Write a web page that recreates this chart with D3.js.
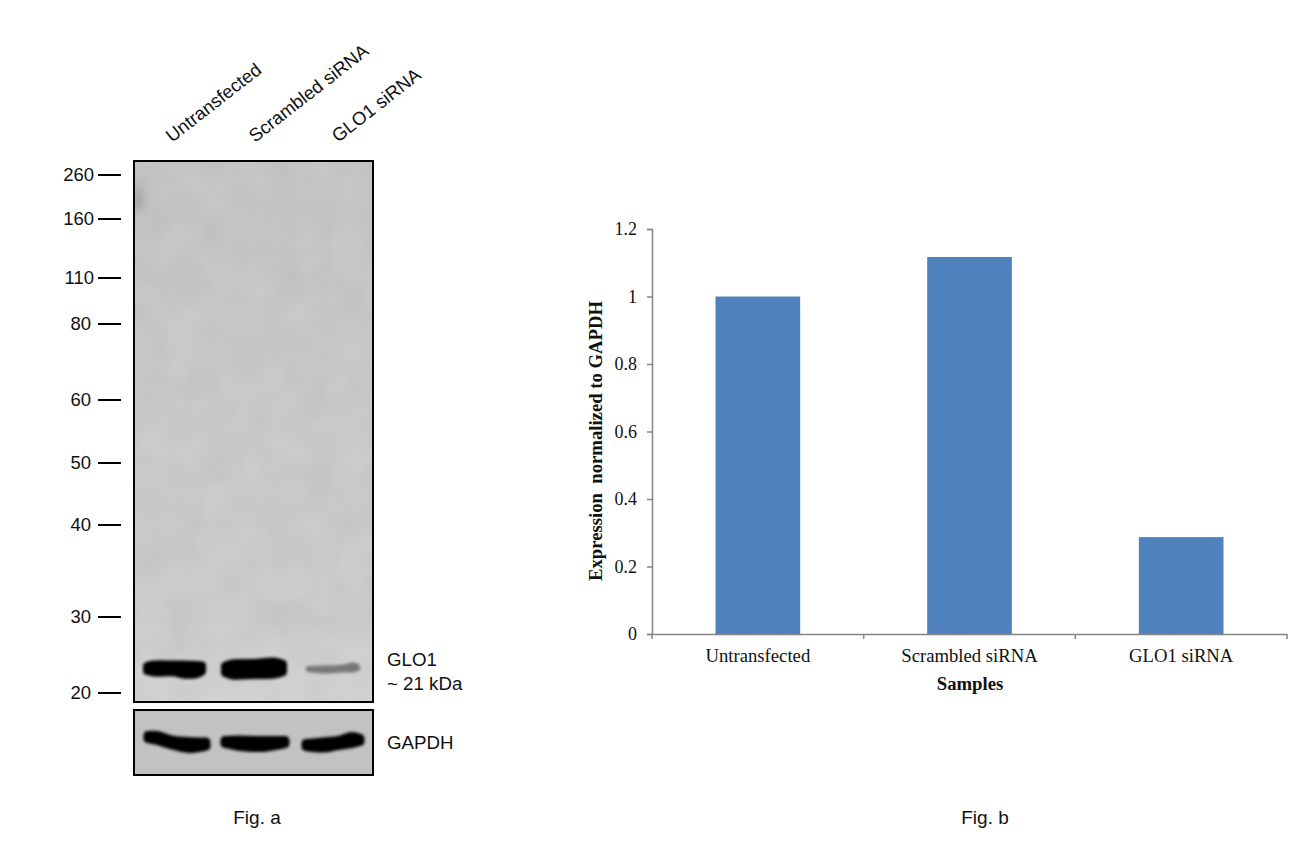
<!DOCTYPE html>
<html>
<head>
<meta charset="utf-8">
<script src="https://cdn.jsdelivr.net/npm/d3@7"></script>
<style>
  html, body { margin: 0; background: #fff; }
  svg { display: block; }
</style>
</head>
<body>
<div id="wrapper"></div>
<script>
const samples = ["Untransfected", "Scrambled siRNA", "GLO1 siRNA"]
const expression = [1, 1.117, 0.287]
const yTicks = [0, 0.2, 0.4, 0.6, 0.8, 1, 1.2]

const ladderKda = [260, 160, 110, 80, 60, 50, 40, 30, 20]
const ladderPx = [175, 219, 278, 324, 400, 463, 525, 617, 693]

// band profile along the lane: [position 0..1, offset from centre, thickness]
const glo1Bands = [
  { lane: 0, ink: "#030303", round: 8, profile: [[0, 0, 5], [0.12, 0, 8], [0.5, 0, 8], [0.65, 1, 10], [0.9, 1, 9], [1, 0, 6]] },
  { lane: 1, ink: "#020202", round: 10, profile: [[0, 1, 6], [0.12, 1, 10], [0.5, 0.5, 10], [0.85, -0.5, 11], [1, -0.5, 7]] },
  { lane: 2, ink: "#787878", round: 4, profile: [[0, 0.5, 2], [0.3, 1, 4], [0.7, 0, 4], [0.9, -1, 6], [1, -1, 3]] }
]
const gapdhBands = [
  { lane: 0, ink: "#040404", round: 9, profile: [[0, -6, 3], [0.15, -5, 5], [0.45, 0, 5], [0.7, 2, 7], [1, 1, 4]] },
  { lane: 1, ink: "#040404", round: 9, profile: [[0, -1, 3], [0.2, 0, 6], [0.6, 1, 7], [1, -1, 3]] },
  { lane: 2, ink: "#040404", round: 9, profile: [[0, 2, 3], [0.3, 2, 6], [0.6, 0, 5], [0.85, -3, 7], [1, -3, 3]] }
]
const glo1Lanes = [[147, 202], [226, 282], [308, 358]]
const gapdhLanes = [[148, 206], [225, 285], [306, 360]]

const dimensions = {
  width: 1310,
  height: 859,
  chart: { left: 652, right: 1287, top: 229, bottom: 634 },
  blot: { left: 134, right: 373, top: 161, bottom: 702 },
  gapdh: { top: 710, bottom: 775 }
}

const svg = d3.select("#wrapper")
  .append("svg")
    .attr("width", dimensions.width)
    .attr("height", dimensions.height)
    .attr("viewBox", `0 0 ${dimensions.width} ${dimensions.height}`)

const defs = svg.append("defs")

const mottle = defs.append("filter")
    .attr("id", "mottle")
    .attr("x", 0).attr("y", 0).attr("width", 1).attr("height", 1)
mottle.append("feTurbulence")
    .attr("type", "fractalNoise")
    .attr("baseFrequency", 0.03)
    .attr("numOctaves", 2)
    .attr("seed", 4)
    .attr("result", "noise")
mottle.append("feColorMatrix")
    .attr("in", "noise")
    .attr("type", "matrix")
    .attr("values", "0 0 0 0 0  0 0 0 0 0  0 0 0 0 0  0.07 0 0 0 -0.02")

defs.append("filter")
    .attr("id", "bandBlur")
    .attr("x", "-20%").attr("y", "-80%").attr("width", "140%").attr("height", "260%")
  .append("feGaussianBlur")
    .attr("stdDeviation", 1.8)
defs.append("filter")
    .attr("id", "smudgeBlur")
    .attr("x", "-100%").attr("y", "-100%").attr("width", "300%").attr("height", "300%")
  .append("feGaussianBlur")
    .attr("stdDeviation", 5)

const blotShade = defs.append("linearGradient")
    .attr("id", "blotShade")
    .attr("x1", 0).attr("x2", 0).attr("y1", 0).attr("y2", 1)
blotShade.selectAll("stop")
  .data([[0, "#c6c6c6"], [0.5, "#cbcbcb"], [0.85, "#cdcdcd"], [1, "#d4d4d4"]])
  .join("stop")
    .attr("offset", d => d[0])
    .attr("stop-color", d => d[1])

defs.append("clipPath").attr("id", "blotClip")
  .append("rect")
    .attr("x", dimensions.blot.left)
    .attr("y", dimensions.blot.top)
    .attr("width", dimensions.blot.right - dimensions.blot.left)
    .attr("height", dimensions.blot.bottom - dimensions.blot.top)

// ---- Fig. a: western blot
const sans = "'Liberation Sans', Arial, sans-serif"
const serif = "'Liberation Serif', 'Times New Roman', serif"

const kdaScale = d3.scaleLog().domain(ladderKda).range(ladderPx)

function bandPath(band, lanes, centerY) {
  const [x0, x1] = lanes[band.lane]
  const along = d3.scaleLinear().domain([0, 1]).range([x0, x1])
  return d3.area()
      .x(d => along(d[0]))
      .y0(d => centerY + d[1] - d[2] / 2)
      .y1(d => centerY + d[1] + d[2] / 2)
      .curve(d3.curveCatmullRom)(band.profile)
}

const blot = svg.append("g").attr("id", "blot")

blot.append("rect")
    .attr("x", dimensions.blot.left)
    .attr("y", dimensions.blot.top)
    .attr("width", dimensions.blot.right - dimensions.blot.left)
    .attr("height", dimensions.blot.bottom - dimensions.blot.top)
    .attr("fill", "url(#blotShade)")
blot.append("rect")
    .attr("x", dimensions.blot.left)
    .attr("y", dimensions.blot.top)
    .attr("width", dimensions.blot.right - dimensions.blot.left)
    .attr("height", dimensions.blot.bottom - dimensions.blot.top)
    .attr("filter", "url(#mottle)")
blot.append("g")
    .attr("clip-path", "url(#blotClip)")
  .append("ellipse")
    .attr("cx", dimensions.blot.left + 4)
    .attr("cy", 199)
    .attr("rx", 5)
    .attr("ry", 14)
    .attr("fill", "#a0a0a0")
    .attr("filter", "url(#smudgeBlur)")

blot.selectAll(".glo1-band")
  .data(glo1Bands)
  .join("path")
    .attr("class", "glo1-band")
    .attr("d", d => bandPath(d, glo1Lanes, 668.5))
    .attr("fill", d => d.ink)
    .attr("stroke", d => d.ink)
    .attr("stroke-width", d => d.round)
    .attr("stroke-linejoin", "round")
    .attr("filter", "url(#bandBlur)")

blot.append("rect")
    .attr("x", dimensions.blot.left)
    .attr("y", dimensions.blot.top)
    .attr("width", dimensions.blot.right - dimensions.blot.left)
    .attr("height", dimensions.blot.bottom - dimensions.blot.top)
    .attr("fill", "none")
    .attr("stroke", "#000")
    .attr("stroke-width", 2)

blot.append("rect")
    .attr("x", dimensions.blot.left)
    .attr("y", dimensions.gapdh.top)
    .attr("width", dimensions.blot.right - dimensions.blot.left)
    .attr("height", dimensions.gapdh.bottom - dimensions.gapdh.top)
    .attr("fill", "#c2c2c2")

blot.selectAll(".gapdh-band")
  .data(gapdhBands)
  .join("path")
    .attr("class", "gapdh-band")
    .attr("d", d => bandPath(d, gapdhLanes, 743))
    .attr("fill", d => d.ink)
    .attr("stroke", d => d.ink)
    .attr("stroke-width", d => d.round)
    .attr("stroke-linejoin", "round")
    .attr("filter", "url(#bandBlur)")

blot.append("rect")
    .attr("x", dimensions.blot.left)
    .attr("y", dimensions.gapdh.top)
    .attr("width", dimensions.blot.right - dimensions.blot.left)
    .attr("height", dimensions.gapdh.bottom - dimensions.gapdh.top)
    .attr("fill", "none")
    .attr("stroke", "#000")
    .attr("stroke-width", 2)

const ladder = blot.append("g")
  .selectAll("g")
  .data(ladderKda)
  .join("g")
    .attr("transform", d => `translate(0,${kdaScale(d)})`)
ladder.append("line")
    .attr("x1", 98).attr("x2", 121)
    .attr("stroke", "#000")
    .attr("stroke-width", 2)
ladder.append("text")
    .attr("x", d => d >= 100 ? 94 : 91)
    .attr("dy", "0.33em")
    .attr("text-anchor", "end")
    .attr("font-family", sans)
    .attr("font-size", 18.5)
    .attr("fill", "#111")
    .text(d => d)

const laneLabelX = d3.scalePoint().domain(samples).range([172, 338])
blot.selectAll(".lane-label")
  .data(samples)
  .join("text")
    .attr("class", "lane-label")
    .attr("transform", d => `translate(${laneLabelX(d)},143) rotate(-38)`)
    .attr("font-family", sans)
    .attr("font-size", 18.5)
    .attr("fill", "#111")
    .text(d => d)

const blotNotes = [["GLO1", 666], ["~ 21 kDa", 690], ["GAPDH", 749]]
blot.selectAll(".note")
  .data(blotNotes)
  .join("text")
    .attr("class", "note")
    .attr("x", 387)
    .attr("y", d => d[1])
    .attr("font-family", sans)
    .attr("font-size", 18.7)
    .attr("fill", "#111")
    .text(d => d[0])

// ---- Fig. b: bar chart
const yScale = d3.scaleLinear()
    .domain([0, 1.2])
    .range([dimensions.chart.bottom, dimensions.chart.top])
const xScale = d3.scaleBand()
    .domain(samples)
    .range([dimensions.chart.left, dimensions.chart.right])
    .paddingInner(0.6)
    .paddingOuter(0.3)

const chart = svg.append("g").attr("id", "chart")

chart.selectAll(".bar")
  .data(samples)
  .join("rect")
    .attr("class", "bar")
    .attr("x", d => xScale(d))
    .attr("width", xScale.bandwidth())
    .attr("y", (d, i) => yScale(expression[i]))
    .attr("height", (d, i) => yScale(0) - yScale(expression[i]))
    .attr("fill", "#4f81bd")

const yAxis = chart.append("g")
    .attr("transform", `translate(${dimensions.chart.left},0)`)
    .call(d3.axisLeft(yScale).tickValues(yTicks).tickFormat(d => d).tickSize(5).tickPadding(10))
yAxis.selectAll("path, line").attr("stroke", "#868686").attr("stroke-width", 1.5)
yAxis.selectAll("text")
    .attr("font-family", serif)
    .attr("font-size", 18)
    .attr("fill", "#111")

const xAxis = chart.append("g")
    .attr("transform", `translate(0,${dimensions.chart.bottom})`)
    .call(d3.axisBottom(xScale).tickSize(0).tickPadding(15))
xAxis.select("path").attr("stroke", "#868686").attr("stroke-width", 1.5)
xAxis.selectAll("text")
    .attr("font-family", serif)
    .attr("font-size", 18.7)
    .attr("fill", "#111")

// category separators sit between the bars, not on them
const separators = d3.range(samples.length + 1)
    .map(i => dimensions.chart.left + i * xScale.step())
chart.selectAll(".separator")
  .data(separators)
  .join("line")
    .attr("class", "separator")
    .attr("x1", d => d).attr("x2", d => d)
    .attr("y1", dimensions.chart.bottom)
    .attr("y2", dimensions.chart.bottom + 5)
    .attr("stroke", "#868686")
    .attr("stroke-width", 1.5)

chart.append("text")
    .attr("x", 970)
    .attr("y", 690)
    .attr("text-anchor", "middle")
    .attr("font-family", serif)
    .attr("font-size", 18.7)
    .attr("font-weight", "bold")
    .attr("fill", "#111")
    .text("Samples")

chart.append("text")
    .attr("transform", "translate(602,441) rotate(-90)")
    .attr("text-anchor", "middle")
    .attr("font-family", serif)
    .attr("font-size", 18.7)
    .attr("font-weight", "bold")
    .attr("fill", "#111")
    .style("white-space", "pre")
    .text("Expression  normalized to GAPDH")

// ---- panel captions
svg.selectAll(".caption")
  .data([["Fig. a", 257], ["Fig. b", 985]])
  .join("text")
    .attr("class", "caption")
    .attr("x", d => d[1])
    .attr("y", 824)
    .attr("text-anchor", "middle")
    .attr("font-family", sans)
    .attr("font-size", 19)
    .attr("fill", "#111")
    .text(d => d[0])
</script>
</body>
</html>
